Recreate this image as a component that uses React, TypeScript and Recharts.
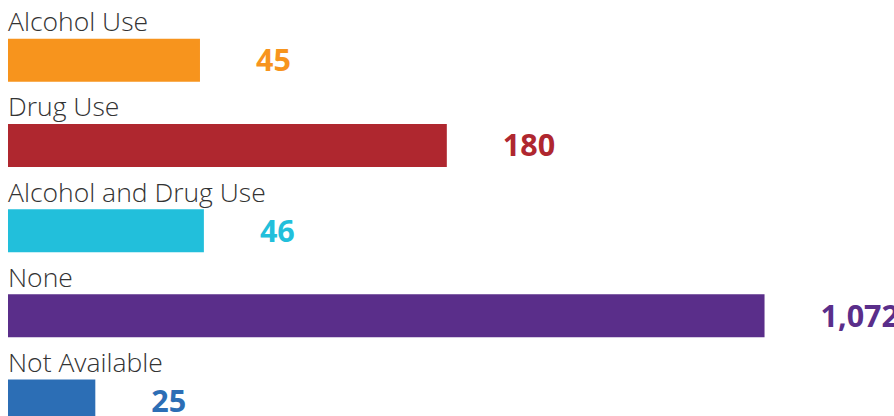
import React, { useLayoutEffect } from 'react';
import { BarChart, Bar, XAxis, YAxis, Cell, LabelList } from 'recharts';

const categories = ['Alcohol Use', 'Drug Use', 'Alcohol and Drug Use', 'None', 'Not Available'];
const counts = [45, 180, 46, 1072, 25];
const colors = ['#F7941D', '#AF272F', '#22BFDB', '#5A2E8A', '#2C6EB5'];

const data = categories.map((name, i) => ({ name, value: counts[i] }));

const FONT = '"Open Sans", "Noto Sans", sans-serif';

// category name sits just above its bar, left aligned
const renderName = (props: any) => {
  const { x, y, index } = props;
  return (
    <text x={x} y={y - 7.5} fill="#333" fontSize={26.5} fontWeight={300} fontFamily={FONT} textAnchor="start">
      {categories[index]}
    </text>
  );
};

const renderValue = (props: any) => {
  const { x, y, width, height, index, value } = props;
  return (
    <text
      x={x + width + 56}
      y={y + height / 2}
      dy="0.36em"
      fill={colors[index]}
      fontSize={30.5}
      fontWeight={700}
      fontFamily={FONT}
      textAnchor="start"
    >
      {Number(value).toLocaleString('en-US')}
    </text>
  );
};

export default function App() {
  // chart fills the whole window, so drop the default body margin
  useLayoutEffect(() => {
    document.body.style.margin = '0';
  }, []);

  return (
    <div style={{ width: 894, height: 416, overflow: 'hidden' }}>
      <BarChart
        width={894}
        height={448}
        layout="vertical"
        data={data}
        margin={{ top: 17.75, right: 0, bottom: 4.25, left: 8 }}
        barSize={43}
      >
        <XAxis type="number" scale="log" domain={[15.31, 2218]} allowDataOverflow hide />
        <YAxis type="category" dataKey="name" hide />
        <Bar dataKey="value" isAnimationActive={false}>
          {data.map((d, i) => (
            <Cell key={d.name} fill={colors[i]} />
          ))}
          <LabelList dataKey="name" content={renderName} />
          <LabelList dataKey="value" content={renderValue} />
        </Bar>
      </BarChart>
    </div>
  );
}
